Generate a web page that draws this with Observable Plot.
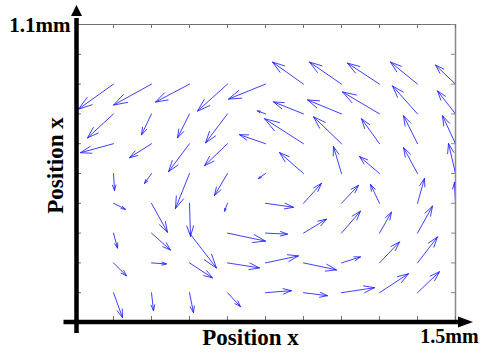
<!DOCTYPE html>
<html><head><meta charset="utf-8">
<script src="https://cdn.jsdelivr.net/npm/d3@7"></script>
<script src="https://cdn.jsdelivr.net/npm/@observablehq/plot@0.6"></script>
<style>body{margin:0;background:#fff} #chart svg{display:block}</style>
</head><body><div id="chart"></div>
<script>
// grid of measurement positions (mm)
const xPositions = [0.15, 0.30, 0.45, 0.60, 0.75, 0.90, 1.05, 1.20, 1.35, 1.50];
const yPositions = [0.88, 0.77, 0.66, 0.55, 0.44, 0.33, 0.22, 0.11];
// velocity components (arbitrary units), one row per y position, top to bottom
const uRows = [
  [-35, -38, -34, -30, -37, -31, -32, -32, -27, -20],
  [-26, -10, -12, -22,  -8, -30, -34, -37, -25, -18],
  [-33, -22, -21, -23, -26, -39, -28, -18, -14, -13],
  [  1,  -7, -14, -13,  -7, -24,  -8, -20, -14,  -7],
  [ 12,  16,   1,  -3,  28,  18,  17,  -9,   7,  -1],
  [  4,  19,  27,  38,  22,  23,  19,  12,  15,   8],
  [ 13,  15,  23,  32,  33,  33,  19,  20,  20,  12],
  [  9,   2,   4,  13,  26,  24,  33,  29,  22,  15]
];
const vRows = [
  [-25, -21, -18, -27, -15,  22,  22,  21,  22,  19],
  [-24, -21, -24, -29,   3,  12,  14,  22,  28,  23],
  [ -9, -14, -28, -22,   9,  25,  27,  25,  28,  28],
  [-17, -10, -35, -22,  -5,  21,  27,  17,  26,  30],
  [ -6, -29, -33,  -8,  -4,  20,  18,  19,  25,  21],
  [-15, -17, -35,  -8,  -1,  14,  22,  21,  27,  20],
  [-13,  -1, -15,  -5,   7,  -7,   6,  21,  26,  20],
  [-25, -18, -20, -14,   2,  -3,   5,  19,  21,  18]
];
const xTicks = d3.range(0, 11).map(i => i * 0.15);
const yTicks = d3.range(0, 11).map(i => i * 0.11);
const xLabel = "Position x";
const yLabel = "Position x";
const xEndLabel = "1.5mm";
const yEndLabel = "1.1mm";
// quiver scale: velocity unit -> mm on each axis
const kx = 1 / 253.3, ky = 1 / 270.9;

const vectors = [];
yPositions.forEach((y, r) => xPositions.forEach((x, c) => {
  vectors.push({x, y, u: uRows[r][c], v: vRows[r][c]});
}));

const W = 483, H = 354, mL = 75, mR = 28, mT = 24, mB = 32;
const fw = W - mL - mR, fh = H - mT - mB;
const font = "'Liberation Serif', 'Times New Roman', serif";

const chart = Plot.plot({
  width: W, height: H,
  marginLeft: mL, marginRight: mR, marginTop: mT, marginBottom: mB,
  x: {domain: [0, 1.5], axis: null},
  y: {domain: [0, 1.1], axis: null},
  style: {background: "white", overflow: "visible"},
  marks: [
    Plot.ruleY([1.1], {stroke: "#707070", strokeWidth: 1}),
    Plot.ruleX([1.5], {stroke: "#8a8a8a", strokeWidth: 1.5}),
    Plot.ruleX(xTicks, {x: d => d, insetBottom: fh - 4, stroke: "#707070"}),
    Plot.ruleX(xTicks, {x: d => d, insetTop: fh - 6, stroke: "#707070"}),
    Plot.ruleY(yTicks, {y: d => d, insetLeft: fw - 4, stroke: "#8a8a8a"}),
    Plot.ruleY(yTicks, {y: d => d, insetRight: fw - 6, stroke: "#707070"}),
    Plot.arrow(vectors, {
      x1: "x", y1: "y",
      x2: d => d.x + d.u * kx, y2: d => d.y + d.v * ky,
      stroke: "#1f1fff", strokeWidth: 1, strokeOpacity: 0.85,
      headLength: Infinity, headAngle: 36, clip: true
    }),
    Plot.text([yEndLabel], {x: 0, y: 1.1, text: d => d, textAnchor: "end", lineAnchor: "middle", dx: -5, dy: 1,
      fontSize: 21, fontWeight: "bold", fontFamily: font, fill: "black"}),
    Plot.text([xEndLabel], {x: 1.5, y: 0, text: d => d, textAnchor: "middle", lineAnchor: "middle", dx: -6, dy: 14,
      fontSize: 20, fontWeight: "bold", fontFamily: font, fill: "black"}),
    Plot.text([xLabel], {frameAnchor: "bottom", text: d => d, textAnchor: "middle", lineAnchor: "middle", dx: -15, dy: 15,
      fontSize: 23, fontWeight: "bold", fontFamily: font, fill: "black"}),
    Plot.text([yLabel], {frameAnchor: "left", text: d => d, rotate: -90, textAnchor: "middle", lineAnchor: "middle", dx: -20, dy: -8,
      fontSize: 23, fontWeight: "bold", fontFamily: font, fill: "black"})
  ]
});
document.getElementById("chart").appendChild(chart);

// thick axis lines with arrowheads (drawn from the plot's own scales)
const sx = chart.scale("x"), sy = chart.scale("y");
const svg = d3.select(chart);
const ax0 = sx.apply(0) + 1.5, ay0 = sy.apply(0);
const g = svg.append("g");
g.append("line").attr("x1", ax0 - 13).attr("x2", sx.apply(1.5) + 6)
  .attr("y1", ay0).attr("y2", ay0).attr("stroke", "black").attr("stroke-width", 4.5);
g.append("path").attr("d", `M${sx.apply(1.5) + 18},${ay0}L${sx.apply(1.5) + 3},${ay0 - 5.5}L${sx.apply(1.5) + 3},${ay0 + 5.5}Z`).attr("fill", "black");
g.append("line").attr("x1", ax0).attr("x2", ax0)
  .attr("y1", ay0 + 11).attr("y2", sy.apply(1.1) - 6).attr("stroke", "black").attr("stroke-width", 4.5);
g.append("path").attr("d", `M${ax0},${sy.apply(1.1) - 19}L${ax0 - 5.5},${sy.apply(1.1) - 8}L${ax0 + 5.5},${sy.apply(1.1) - 8}Z`).attr("fill", "black");
</script>
</body></html>
